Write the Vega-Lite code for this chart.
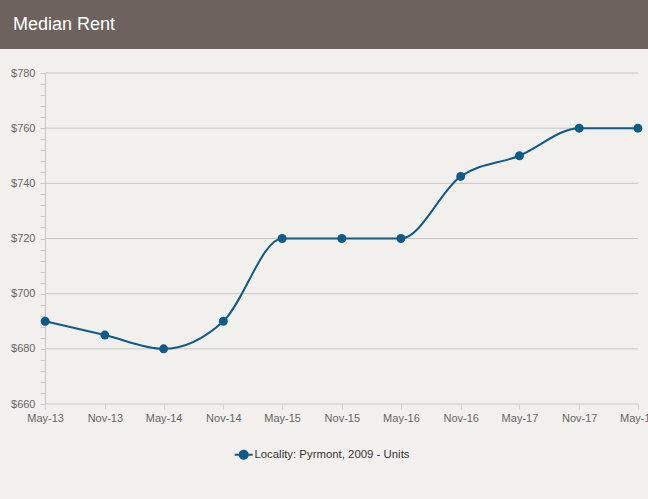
{
  "$schema": "https://vega.github.io/schema/vega-lite/v6.json",
  "background": "#f2f0ec",
  "padding": {"left": 0, "top": 0, "right": 0, "bottom": 75},
  "config": {"view": {"stroke": null}, "font": "Liberation Sans"},
  "spacing": 18,
  "vconcat": [
    {
      "width": 648,
      "height": 49,
      "view": {"fill": "#6d625d", "stroke": null},
      "data": {"values": [{"t": "Median Rent"}]},
      "mark": {"type": "text", "align": "left", "baseline": "middle", "fontSize": 18, "color": "#ffffff", "font": "Liberation Sans"},
      "encoding": {
        "text": {"field": "t"},
        "x": {"value": 13},
        "y": {"value": 25}
      }
    },
    {
      "width": 648,
      "height": 331,
      "data": {
        "values": [
          {"date": "2013-05-01", "rent": 690, "series": "Locality: Pyrmont, 2009 - Units"},
          {"date": "2013-11-01", "rent": 685, "series": "Locality: Pyrmont, 2009 - Units"},
          {"date": "2014-05-01", "rent": 680, "series": "Locality: Pyrmont, 2009 - Units"},
          {"date": "2014-11-01", "rent": 690, "series": "Locality: Pyrmont, 2009 - Units"},
          {"date": "2015-05-01", "rent": 720, "series": "Locality: Pyrmont, 2009 - Units"},
          {"date": "2015-11-01", "rent": 720, "series": "Locality: Pyrmont, 2009 - Units"},
          {"date": "2016-05-01", "rent": 720, "series": "Locality: Pyrmont, 2009 - Units"},
          {"date": "2016-11-01", "rent": 742.5, "series": "Locality: Pyrmont, 2009 - Units"},
          {"date": "2017-05-01", "rent": 750, "series": "Locality: Pyrmont, 2009 - Units"},
          {"date": "2017-11-01", "rent": 760, "series": "Locality: Pyrmont, 2009 - Units"},
          {"date": "2018-05-01", "rent": 760, "series": "Locality: Pyrmont, 2009 - Units"}
        ]
      },
      "layer": [
        {
          "data": {"values": [{"g": 660}, {"g": 680}, {"g": 700}, {"g": 720}, {"g": 740}, {"g": 760}, {"g": 780}]},
          "mark": {"type": "rule", "color": "#c6c6c6", "strokeWidth": 1},
          "encoding": {
            "y": {
              "field": "g", "type": "quantitative",
              "scale": {"domain": [660, 780], "nice": false, "zero": false},
              "axis": {
                "title": null, "offset": -45, "grid": false, "labelOverlap": false, "labelFlush": false, "tickCount": 31,
                "values": [660, 664, 668, 672, 676, 680, 684, 688, 692, 696, 700, 704, 708, 712, 716, 720, 724, 728, 732, 736, 740, 744, 748, 752, 756, 760, 764, 768, 772, 776, 780],
                "labelExpr": "datum.value % 20 === 0 ? '$' + datum.value : ''",
                "domainColor": "#c8c8c8", "tickColor": "#c8c8c8", "tickSize": 5,
                "labelColor": "#666666", "labelFontSize": 11, "labelPadding": 5
              }
            },
            "x": {"datum": {"year": 2013, "month": 5, "date": 1}, "type": "temporal"},
            "x2": {"datum": {"year": 2018, "month": 5, "date": 1}}
          }
        },
        {
          "mark": {"type": "line", "interpolate": "monotone", "strokeWidth": 2, "color": "#0c3d5e"},
          "encoding": {
            "x": {
              "field": "date", "type": "temporal",
              "scale": {"domain": ["2012-12-13", "2018-06-01"], "nice": false},
              "axis": {
                "title": null, "format": "%b-%y", "labelFlush": false, "labelOverlap": false,
                "values": ["2013-05-01", "2013-11-01", "2014-05-01", "2014-11-01", "2015-05-01", "2015-11-01", "2016-05-01", "2016-11-01", "2017-05-01", "2017-11-01", "2018-05-01"],
                "grid": false, "domain": false, "tickColor": "#d2d2d2", "tickSize": 5, "labelColor": "#666666", "labelFontSize": 11, "labelPadding": 3
              }
            },
            "y": {
              "field": "rent", "type": "quantitative",
              "axis": {
                "title": null, "offset": -45, "grid": false, "labelOverlap": false, "labelFlush": false, "tickCount": 31,
                "values": [660, 664, 668, 672, 676, 680, 684, 688, 692, 696, 700, 704, 708, 712, 716, 720, 724, 728, 732, 736, 740, 744, 748, 752, 756, 760, 764, 768, 772, 776, 780],
                "labelExpr": "datum.value % 20 === 0 ? '$' + datum.value : ''",
                "domainColor": "#c8c8c8", "tickColor": "#c8c8c8", "tickSize": 5,
                "labelColor": "#666666", "labelFontSize": 11, "labelPadding": 5
              }
            },
            "color": {
              "field": "series", "type": "nominal",
              "scale": {"range": ["#0f5b87"]},
              "legend": {
                "title": null, "orient": "none", "legendX": 238, "legendY": 449, "padding": 0,
                "symbolType": "M-1.8,-0.2H1.8V0.2H-1.8Z M1,0A1,1 0 1,1 -1,0A1,1 0 1,1 1,0Z",
                "symbolSize": 100, "symbolFillColor": "#0f5b87", "symbolStrokeWidth": 0,
                "labelColor": "#333333", "labelFontSize": 11.4, "labelOffset": 5
              }
            }
          }
        },
        {
          "mark": {"type": "point", "filled": true, "size": 80, "opacity": 1},
          "encoding": {
            "x": {"field": "date", "type": "temporal"},
            "y": {"field": "rent", "type": "quantitative"},
            "color": {"field": "series", "type": "nominal"}
          }
        }
      ]
    }
  ]
}
